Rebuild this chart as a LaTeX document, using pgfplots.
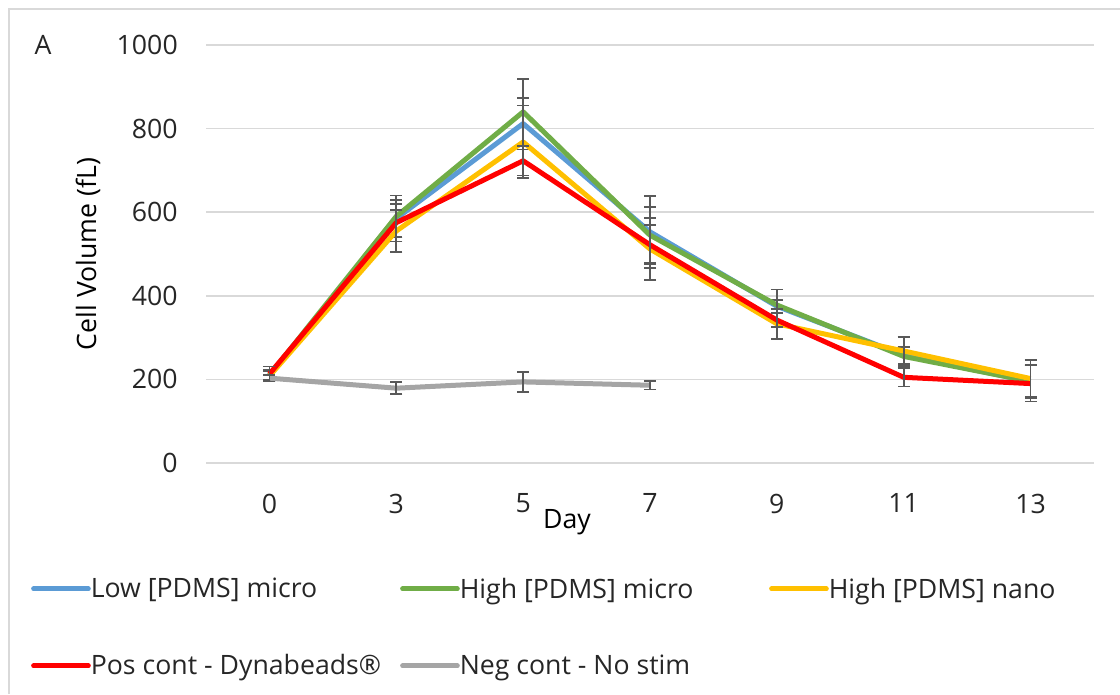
\documentclass[border=0pt]{standalone}
\usepackage{pgfplots}
\pgfplotsset{compat=1.18}
\usepackage{fontspec}
\setmainfont{Open Sans}

\definecolor{cblue}{HTML}{5B9BD5}
\definecolor{cgreen}{HTML}{70AD47}
\definecolor{cyellow}{HTML}{FFC000}
\definecolor{cred}{HTML}{FF0000}
\definecolor{cgray}{HTML}{A5A5A5}
\definecolor{errgray}{HTML}{595959}
\definecolor{gridgray}{HTML}{D9D9D9}
\definecolor{txt}{HTML}{262626}

\pgfplotsset{
  /pgfplots/error bars/error bar style={errgray, line width=1.3pt},
  /pgfplots/error bars/error mark options={errgray, line width=1.3pt, mark size=4.5pt, rotate=90},
}

\begin{document}
\begin{tikzpicture}
\useasboundingbox (0pt,0pt) rectangle (840pt,520.5pt);
\draw[gridgray, line width=1pt] (6.75pt,0pt) -- (6.75pt,513.75pt) -- (840pt,513.75pt);
\begin{axis}[
  at={(154.5pt,173.25pt)}, anchor=south west,
  scale only axis, width=666pt, height=313.5pt,
  clip mode=individual,
  xmin=-0.5, xmax=6.5, ymin=0, ymax=1000,
  xtick={0,1,2,3,4,5,6},
  xticklabels={0,3,5,7,9,11,13},
  ytick={0,200,400,600,800,1000},
  ymajorgrids, major grid style={gridgray, line width=1.1pt},
  axis line style={draw=none},
  major tick length=0pt,
  font=\fontsize{20}{24}\selectfont,
  tick label style={font=\fontsize{20}{24}\selectfont, text=txt, inner sep=0pt},
  /pgf/number format/assume math mode=true,
  /pgf/number format/set thousands separator={},
  yticklabel style={anchor=east, xshift=-21pt},
  xticklabel style={anchor=north, yshift=-23pt},
  xlabel={Day}, ylabel={Cell Volume (fL)},
  label style={text=txt},
  every axis x label/.style={at={(axis description cs:0.4065,-0.141)}, anchor=center},
  every axis y label/.style={at={(axis description cs:-0.1329,0.5)}, rotate=90, anchor=center},
  legend columns=3,
  legend cell align=left,
  legend style={at={(axis description cs:-0.1972,-0.274)}, anchor=north west,
    draw=none, fill=none, inner sep=0pt, row sep=41pt,
    nodes={inner sep=0pt, text=txt, font=\fontsize{20}{24}\selectfont}},
  legend image code/.code={\draw[#1, line width=3.75pt, line cap=round] (0pt,0pt) -- (41pt,0pt);},
  every axis plot/.append style={line width=3.75pt, line join=round},
]
% Low [PDMS] micro
\addplot[cblue, error bars/.cd, y dir=both, y explicit] table[x=x, y=y, y error=e] {
x y e
0 210 12
1 585 45
2 812 62
3 553 86
4 375 15
5 258 20
6 195 38
};
\addlegendentry{\makebox[232pt][l]{Low [PDMS] micro}}
% High [PDMS] micro
\addplot[cgreen, error bars/.cd, y dir=both, y explicit] table[x=x, y=y, y error=e] {
x y e
0 210 10
1 590 50
2 840 78
3 545 67
4 378 37
5 255 23
6 195 40
};
\addlegendentry{\makebox[232pt][l]{High [PDMS] micro}}
% High [PDMS] nano
\addplot[cyellow, error bars/.cd, y dir=both, y explicit] table[x=x, y=y, y error=e] {
x y e
0 208 12
1 555 50
2 768 87
3 512 74
4 333 36
5 268 34
6 202 44
};
\addlegendentry{High [PDMS] nano}
% Positive control
\addplot[cred, error bars/.cd, y dir=both, y explicit] table[x=x, y=y, y error=e] {
x y e
0 213 18
1 575 45
2 723 35
3 522 47
4 342 17
5 205 22
6 190 43
};
\addlegendentry{\makebox[232pt][l]{Pos cont - Dynabeads®}}
% Negative control
\addplot[cgray, error bars/.cd, y dir=both, y explicit] table[x=x, y=y, y error=e] {
x y e
0 203 8
1 179 14
2 194 24
3 186 10
};
\addlegendentry{\makebox[232pt][l]{Neg cont - No stim}}
\node[anchor=center, text=txt, font=\fontsize{20}{24}\selectfont] at (axis description cs:-0.1836,1.0) {A};
\end{axis}
\end{tikzpicture}
\end{document}
